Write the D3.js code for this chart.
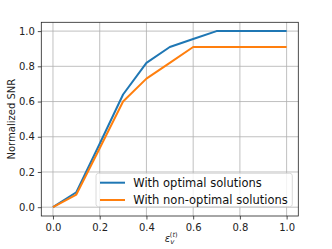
<!DOCTYPE html>
<html>
<head>
<meta charset="utf-8">
<script src="https://cdn.jsdelivr.net/npm/d3@7"></script>
<style>
  body { margin: 0; background: #fff; }
  text { font-family: "DejaVu Sans", sans-serif; }
</style>
</head>
<body>
<div id="container"></div>
<script>
/* DATA */
const epsValues = [0, 0.1, 0.2, 0.3, 0.4, 0.5, 0.6, 0.7, 0.8, 0.9, 1.0]
const optimalSNR = [0, 0.085, 0.36, 0.64, 0.82, 0.91, 0.955, 1.0, 1.0, 1.0, 1.0]
const nonOptimalSNR = [0, 0.072, 0.335, 0.60, 0.73, 0.82, 0.91, 0.91, 0.91, 0.91, 0.91]
const xTicks = [0, 0.2, 0.4, 0.6, 0.8, 1.0]
const yTicks = [0, 0.2, 0.4, 0.6, 0.8, 1.0]
const seriesNames = ["With optimal solutions", "With non-optimal solutions"]
const seriesColors = ["#1f77b4", "#ff7f0e"]

/* CONSTANTS */
const width = 332, height = 249,
      margin = {top: 22.3, bottom: 33, left: 41.3, right: 33.7}

const svg = d3.select("#container")
              .append("svg")
              .attr("width", width)
              .attr("height", height)

/* SCALES */
const xScale = d3.scaleLinear()
                 .domain([-0.05, 1.05])
                 .range([margin.left, width - margin.right])

const yScale = d3.scaleLinear()
                 .domain([-0.05, 1.05])
                 .range([height - margin.bottom, margin.top])

// grid
svg.append("g")
   .selectAll("line.gx")
   .data(xTicks)
   .join("line")
   .attr("x1", d => xScale(d)).attr("x2", d => xScale(d))
   .attr("y1", margin.top).attr("y2", height - margin.bottom)
   .attr("stroke", "#b0b0b0").attr("stroke-width", 0.8)

svg.append("g")
   .selectAll("line.gy")
   .data(yTicks)
   .join("line")
   .attr("y1", d => yScale(d)).attr("y2", d => yScale(d))
   .attr("x1", margin.left).attr("x2", width - margin.right)
   .attr("stroke", "#b0b0b0").attr("stroke-width", 0.8)

/* AXES */
const xAxis = d3.axisBottom(xScale).tickValues(xTicks).tickFormat(d3.format(".1f")).tickSize(3.5).tickSizeOuter(0).tickPadding(3)
const yAxis = d3.axisLeft(yScale).tickValues(yTicks).tickFormat(d3.format(".1f")).tickSize(3.5).tickSizeOuter(0).tickPadding(3)

const gx = svg.append("g")
   .attr("transform", `translate(0, ${height - margin.bottom})`)
   .call(xAxis)
const gy = svg.append("g")
   .attr("transform", `translate(${margin.left}, 0)`)
   .call(yAxis)

for (const g of [gx, gy]) {
  g.select(".domain").remove()
  g.selectAll("text").attr("font-size", 10).attr("fill", "#222")
   .style("font-family", '"DejaVu Sans", sans-serif')
  g.selectAll("line").attr("stroke", "#222").attr("stroke-width", 0.8)
}
gx.selectAll("text").attr("dy", "0.85em")

/* LINES */
const line = d3.line()
               .x((d, i) => xScale(epsValues[i]))
               .y(d => yScale(d))

svg.selectAll("path.series")
   .data([optimalSNR, nonOptimalSNR])
   .join("path")
   .attr("class", "series")
   .attr("d", d => line(d))
   .attr("fill", "none")
   .attr("stroke", (d, i) => seriesColors[i])
   .attr("stroke-width", 2)
   .attr("stroke-linejoin", "round")

// frame
svg.append("rect")
   .attr("x", margin.left).attr("y", margin.top)
   .attr("width", width - margin.left - margin.right)
   .attr("height", height - margin.top - margin.bottom)
   .attr("fill", "none").attr("stroke", "#222").attr("stroke-width", 0.8)

/* LEGEND */
const legend = svg.append("g")
legend.append("rect")
      .attr("x", 96).attr("y", 173.3)
      .attr("width", 196.3).attr("height", 33.4)
      .attr("rx", 2.5)
      .attr("fill", "#fff").attr("fill-opacity", 0.8)
      .attr("stroke", "#d0d0d0").attr("stroke-width", 0.8)

const items = legend.selectAll("g.item")
      .data(seriesNames)
      .join("g")
      .attr("transform", (d, i) => `translate(0, ${182.7 + i * 17.3})`)
items.append("line")
     .attr("x1", 100).attr("x2", 125)
     .attr("stroke", (d, i) => seriesColors[i])
     .attr("stroke-width", 2)
items.append("text")
     .attr("x", 133.3).attr("dy", "0.35em")
     .attr("font-size", 11.5).attr("fill", "#111")
     .text(d => d)

/* LABELS */
svg.append("text")
   .attr("transform", `translate(15, ${(margin.top + height - margin.bottom) / 2}) rotate(-90)`)
   .attr("text-anchor", "middle")
   .attr("font-size", 10).attr("fill", "#222")
   .text("Normalized SNR")

const xl = svg.append("text")
   .attr("x", xScale(0.5) - 5).attr("y", 242)
   .attr("font-size", 10).attr("fill", "#222")
xl.append("tspan").attr("font-style", "italic").text("ε")
xl.append("tspan").attr("font-style", "italic").attr("font-size", 7).attr("dy", 2).text("v")
xl.append("tspan").attr("font-size", 6.5).attr("dx", -4.5).attr("dy", -7.5).text("(")
xl.append("tspan").attr("font-size", 6.5).attr("font-style", "italic").text("t")
xl.append("tspan").attr("font-size", 6.5).text(")")
</script>
</body>
</html>
